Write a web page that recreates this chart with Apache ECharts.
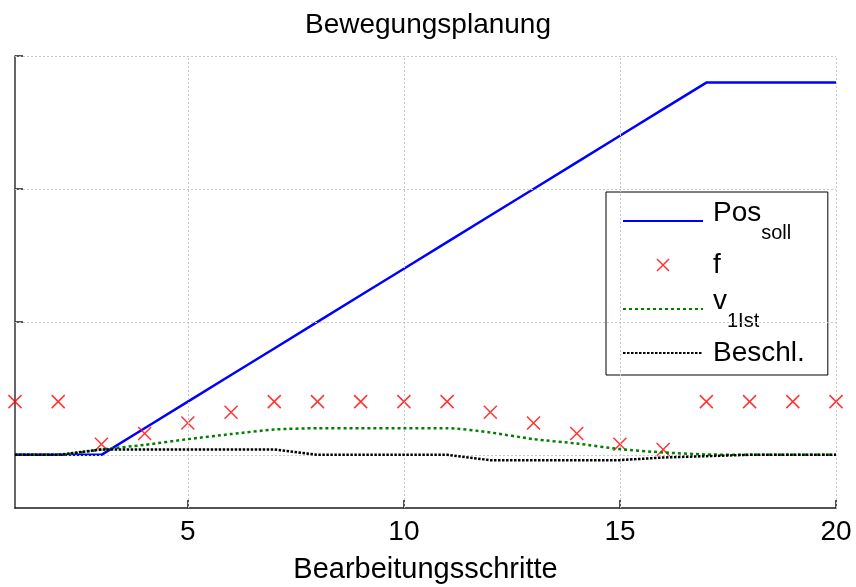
<!DOCTYPE html>
<html>
<head>
<meta charset="utf-8">
<script src="https://cdn.jsdelivr.net/npm/echarts@6/dist/echarts.min.js"></script>
<style>
  html, body { margin: 0; padding: 0; background: #fff; }
  #chart { width: 856px; height: 587px; }
</style>
</head>
<body>
<div id="chart"></div>
<script>
// Processing steps 1..20
const steps = [1, 2, 3, 4, 5, 6, 7, 8, 9, 10, 11, 12, 13, 14, 15, 16, 17, 18, 19, 20];
// Target position
const posSoll = [0, 0, 0, 0.2, 0.4, 0.6, 0.8, 1.0, 1.2, 1.4, 1.6, 1.8, 2.0, 2.2, 2.4, 2.6, 2.8, 2.8, 2.8, 2.8];
// Feed values (markers)
const fValues = [0.4, 0.4, 0.08, 0.16, 0.24, 0.32, 0.4, 0.4, 0.4, 0.4, 0.4, 0.32, 0.24, 0.16, 0.08, 0.04, 0.4, 0.4, 0.4, 0.4];
// Actual velocity
const v1Ist = [0, 0, 0.04, 0.075, 0.118, 0.156, 0.19, 0.2, 0.2, 0.2, 0.2, 0.168, 0.118, 0.085, 0.043, 0.018, 0.003, 0, 0, 0];
// Acceleration
const beschl = [0, 0, 0.04, 0.04, 0.04, 0.04, 0.04, 0, 0, 0, 0, -0.04, -0.04, -0.04, -0.04, -0.02, -0.01, 0, 0, 0];

const xTickValues = [5, 10, 15, 20];
const yTickValues = [0, 1, 2, 3];
const seriesNames = ['Pos_soll', 'f', 'v_1Ist', 'Beschl.'];

const FONT = '"Liberation Sans", Arial, Helvetica, sans-serif';
const CROSS = 'path://M0,0L10,10M10,0L0,10';
const pairs = (ys) => steps.map((x, i) => [x, ys[i]]);
const gridLine = { color: '#c8c8c8', width: 1, type: [2, 2] };
// legend entries for line series show only the line sample
const lineOnly = { opacity: 0 };

const chart = echarts.init(document.getElementById('chart'), null, { renderer: 'canvas' });

const option = {
  animation: false,
  backgroundColor: '#fff',
  title: {
    text: 'Bewegungsplanung',
    left: 'center',
    top: 6,
    textStyle: { fontFamily: FONT, fontSize: 28, fontWeight: 'normal', color: '#000' }
  },
  grid: { left: 15, right: 20, top: 56, bottom: 79, outerBoundsMode: 'none', containLabel: false },
  xAxis: {
    type: 'value',
    min: 1,
    max: 20,
    name: 'Bearbeitungsschritte',
    nameLocation: 'middle',
    nameGap: 47,
    nameTextStyle: { fontFamily: FONT, fontSize: 29, color: '#000' },
    axisLine: { show: true, onZero: false, lineStyle: { color: '#1a1a1a', width: 1.5 } },
    axisTick: { show: true, inside: true, length: 8, customValues: xTickValues, lineStyle: { color: '#1a1a1a', width: 1.5 } },
    axisLabel: { show: true, customValues: xTickValues, fontFamily: FONT, fontSize: 28, color: '#000', margin: 10 },
    splitLine: { show: false }
  },
  yAxis: {
    type: 'value',
    min: -0.4,
    max: 3,
    axisLine: { show: true, onZero: false, lineStyle: { color: '#333', width: 1.5 } },
    axisTick: { show: true, inside: true, length: 8, customValues: [1, 2, 3], lineStyle: { color: '#1a1a1a', width: 1.5 } },
    axisLabel: { show: false },
    splitLine: { show: false }
  },
  legend: {
    data: [
      { name: seriesNames[0], itemStyle: lineOnly },
      { name: seriesNames[1], icon: CROSS, itemStyle: { color: 'none', borderColor: '#ff0000', borderWidth: 1.5 } },
      { name: seriesNames[2], itemStyle: lineOnly },
      { name: seriesNames[3], itemStyle: lineOnly }
    ],
    orient: 'vertical',
    left: 606,
    top: 192,
    padding: [7, 23, 0, 16],
    itemGap: 0,
    itemWidth: 80,
    itemHeight: 12,
    backgroundColor: '#fff',
    borderColor: '#000',
    borderWidth: 1,
    borderRadius: 0,
    selectedMode: false,
    formatter: (name) => {
      const i = name.indexOf('_');
      return i < 0 ? name : '{m|' + name.slice(0, i) + '}{s|' + name.slice(i + 1) + '}';
    },
    textStyle: {
      fontFamily: FONT, fontSize: 28, color: '#000', lineHeight: 44, padding: [0, 0, 0, 5],
      rich: {
        m: { fontFamily: FONT, fontSize: 28, color: '#000', lineHeight: 44, verticalAlign: 'top' },
        s: { fontFamily: FONT, fontSize: 20, color: '#000', lineHeight: 44, verticalAlign: 'bottom' }
      }
    }
  },
  series: [
    {
      // dotted reference grid
      type: 'line',
      name: 'grid',
      data: [],
      silent: true,
      z: 1,
      markLine: {
        silent: true,
        animation: false,
        symbol: 'none',
        label: { show: false },
        emphasis: { disabled: true },
        lineStyle: gridLine,
        data: yTickValues.map(v => ({ yAxis: v })).concat(xTickValues.map(v => ({ xAxis: v })))
      }
    },
    {
      name: seriesNames[0],
      type: 'line',
      data: pairs(posSoll),
      symbol: 'none',
      z: 3,
      lineStyle: { color: '#0000ff', width: 2.5 },
      itemStyle: { color: '#0000ff' }
    },
    {
      name: seriesNames[1],
      type: 'scatter',
      data: pairs(fValues),
      symbol: CROSS,
      symbolSize: 13,
      clip: false,
      z: 4,
      itemStyle: { color: 'none', borderColor: '#ff0000', borderWidth: 1.5 }
    },
    {
      name: seriesNames[2],
      type: 'line',
      data: pairs(v1Ist),
      symbol: 'none',
      smooth: 0.25,
      z: 5,
      lineStyle: { color: '#008000', width: 2.5, type: [3, 3] },
      itemStyle: { color: '#008000' }
    },
    {
      name: seriesNames[3],
      type: 'line',
      data: pairs(beschl),
      symbol: 'none',
      z: 6,
      lineStyle: { color: '#000', width: 2.5, type: [2.5, 1.5] },
      itemStyle: { color: '#000' }
    }
  ]
};

chart.setOption(option);
</script>
</body>
</html>
